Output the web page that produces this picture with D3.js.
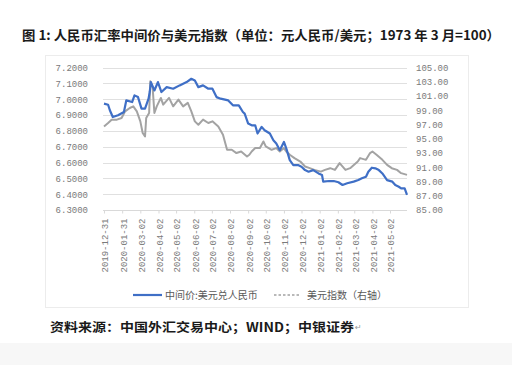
<!DOCTYPE html>
<html><head><meta charset="utf-8">
<script src="https://cdn.jsdelivr.net/npm/d3@7/dist/d3.min.js"></script>
<style>
html,body{margin:0;padding:0;background:#fff;}
svg{display:block;}
</style></head>
<body>
<script>
const titleText = "图 1: 人民币汇率中间价与美元指数（单位：元人民币/美元；1973 年 3 月=100）";
const sourceText = "资料来源：中国外汇交易中心；WIND；中银证券";
const seriesNames = ["中间价:美元兑人民币", "美元指数（右轴）"];

const xTickLabels = ["2019-12-31","2020-01-31","2020-03-02","2020-04-02","2020-05-02","2020-06-02","2020-07-02","2020-08-02","2020-09-02","2020-10-02","2020-11-02","2020-12-02","2021-01-02","2021-02-02","2021-03-02","2021-04-02","2021-05-02"];
const leftTicks = [7.2,7.1,7.0,6.9,6.8,6.7,6.6,6.5,6.4,6.3];
const rightTicks = [105,103,101,99,97,95,93,91,89,87,85];

const cnyDates = ["2019-12-31","2020-01-07","2020-01-10","2020-01-15","2020-01-24","2020-02-03","2020-02-07","2020-02-17","2020-02-21","2020-02-27","2020-03-04","2020-03-10","2020-03-16","2020-03-18","2020-03-20","2020-03-26","2020-04-01","2020-04-07","2020-04-16","2020-04-27","2020-05-08","2020-05-20","2020-05-28","2020-06-03","2020-06-09","2020-06-17","2020-06-26","2020-07-03","2020-07-10","2020-07-17","2020-07-30","2020-08-07","2020-08-17","2020-08-24","2020-08-27","2020-09-02","2020-09-08","2020-09-14","2020-09-18","2020-09-25","2020-09-30","2020-10-09","2020-10-15","2020-10-20","2020-10-26","2020-11-02","2020-11-06","2020-11-12","2020-11-18","2020-11-26","2020-12-02","2020-12-08","2020-12-14","2020-12-22","2020-12-31","2021-01-06","2021-01-08","2021-01-18","2021-01-26","2021-02-03","2021-02-10","2021-02-18","2021-03-01","2021-03-09","2021-03-15","2021-03-22","2021-03-26","2021-04-01","2021-04-07","2021-04-13","2021-04-19","2021-04-27","2021-05-06","2021-05-11","2021-05-17","2021-05-21","2021-05-27","2021-05-31"];
const cnyValues = [6.972,6.965,6.930,6.887,6.898,6.919,6.992,6.982,7.024,7.013,6.940,6.940,7.003,7.045,7.108,7.055,7.108,7.045,7.076,7.066,7.087,7.108,7.129,7.118,7.076,7.087,7.066,7.066,7.013,7.003,6.992,6.961,6.961,6.919,6.909,6.846,6.835,6.835,6.783,6.825,6.804,6.783,6.741,6.720,6.678,6.730,6.689,6.615,6.584,6.584,6.573,6.552,6.542,6.552,6.531,6.521,6.479,6.483,6.483,6.475,6.458,6.469,6.479,6.489,6.500,6.510,6.542,6.567,6.563,6.552,6.531,6.489,6.479,6.458,6.447,6.437,6.437,6.395];

const dxyDates = ["2019-12-31","2020-01-07","2020-01-13","2020-01-22","2020-01-30","2020-02-05","2020-02-13","2020-02-19","2020-02-25","2020-03-02","2020-03-06","2020-03-10","2020-03-12","2020-03-17","2020-03-19","2020-03-23","2020-03-26","2020-03-30","2020-04-06","2020-04-10","2020-04-20","2020-04-27","2020-05-06","2020-05-14","2020-05-22","2020-05-28","2020-06-03","2020-06-09","2020-06-17","2020-06-26","2020-07-03","2020-07-13","2020-07-21","2020-07-28","2020-08-05","2020-08-13","2020-08-21","2020-08-31","2020-09-04","2020-09-08","2020-09-14","2020-09-22","2020-09-28","2020-10-02","2020-10-12","2020-10-20","2020-10-26","2020-11-02","2020-11-06","2020-11-12","2020-11-20","2020-11-30","2020-12-08","2020-12-16","2020-12-24","2021-01-04","2021-01-11","2021-01-20","2021-01-28","2021-02-05","2021-02-15","2021-02-23","2021-03-08","2021-03-12","2021-03-22","2021-03-29","2021-04-02","2021-04-09","2021-04-19","2021-04-27","2021-05-05","2021-05-14","2021-05-21","2021-05-31"];
const dxyValues = [96.73,97.21,97.68,97.68,97.92,98.85,99.32,99.55,98.85,97.44,95.80,95.32,97.92,98.62,103.07,102.14,98.62,99.55,100.73,99.79,100.73,99.55,100.49,99.55,100.03,98.85,97.44,96.97,97.68,97.21,97.44,96.73,95.56,93.45,93.45,92.99,93.21,92.51,92.75,93.21,93.69,93.69,94.62,93.92,93.45,93.69,93.21,93.69,93.21,92.75,92.28,91.80,91.10,90.87,90.63,90.39,90.63,90.87,90.63,91.58,90.63,90.87,91.80,92.28,92.04,92.99,93.21,92.75,92.04,91.34,90.87,90.63,90.17,89.93];

const W = 512, H = 365;
const parse = d3.timeParse("%Y-%m-%d");
const svg = d3.select("body").append("svg").attr("width", W).attr("height", H);
svg.append("rect").attr("width", W).attr("height", H).attr("fill", "#fff");
svg.append("rect").attr("x", 0).attr("y", 343).attr("width", W).attr("height", 22).attr("fill", "#f7f7f7");

// chart box
svg.append("rect").attr("x", 45.5).attr("y", 55.5).attr("width", 423).attr("height", 252)
  .attr("fill", "#fff").attr("stroke", "#ececec");

const x = d3.scaleTime().domain([parse("2019-12-31"), parse("2021-05-31")]).range([104, 407]);
const yL = d3.scaleLinear().domain([6.3, 7.2]).range([210, 67.5]);
const yR = d3.scaleLinear().domain([85, 105]).range([210, 67.5]);

const mono = "'Liberation Mono', 'DejaVu Sans Mono', monospace";

// gridlines
svg.append("g").selectAll("line").data(leftTicks).join("line")
  .attr("x1", 103).attr("x2", 407)
  .attr("y1", d => Math.round(yL(d)) + 0.5).attr("y2", d => Math.round(yL(d)) + 0.5)
  .attr("stroke", "#e0e0e0").attr("stroke-width", 1);

// left axis
const gL = svg.append("g").attr("transform", "translate(88,0)")
  .call(d3.axisLeft(yL).tickValues(leftTicks).tickFormat(d3.format(".4f")).tickSize(0).tickPadding(0));
gL.select(".domain").remove();
gL.selectAll("text").attr("font-family", mono).attr("font-size", 9).attr("fill", "#7a7a7a");

// right axis
const gR = svg.append("g").attr("transform", "translate(416,0)")
  .call(d3.axisRight(yR).tickValues(rightTicks).tickFormat(d3.format(".2f")).tickSize(0).tickPadding(0));
gR.select(".domain").remove();
gR.selectAll("text").attr("font-family", mono).attr("font-size", 9).attr("fill", "#7a7a7a");

// bottom axis
const gB = svg.append("g").attr("transform", "translate(0,210.5)")
  .call(d3.axisBottom(x).tickValues(xTickLabels.map(parse)).tickFormat(d3.timeFormat("%Y-%m-%d")).tickSize(3).tickPadding(0));
gB.select(".domain").attr("stroke", "#d9d9d9").attr("d", "M103,0H407");
gB.selectAll(".tick line").attr("stroke", "#d9d9d9");
gB.selectAll("text").attr("font-family", mono).attr("font-size", 9).attr("fill", "#7a7a7a")
  .attr("transform", "rotate(-90)").attr("text-anchor", "end").attr("x", -8).attr("y", 1).attr("dy", "0.32em");

// lines
const dxy = dxyDates.map((d, i) => ({ d: parse(d), v: dxyValues[i] }));
const cny = cnyDates.map((d, i) => ({ d: parse(d), v: cnyValues[i] }));
svg.append("path").datum(dxy).attr("fill", "none").attr("stroke", "#a3a3a3").attr("stroke-width", 2)
  .attr("stroke-linejoin", "round")
  .attr("d", d3.line().x(p => x(p.d)).y(p => yR(p.v)));
svg.append("path").datum(cny).attr("fill", "none").attr("stroke", "#3f6fc6").attr("stroke-width", 2.2)
  .attr("stroke-linejoin", "round")
  .attr("d", d3.line().x(p => x(p.d)).y(p => yL(p.v)));

// legend
const lg = svg.append("g");
lg.append("line").attr("x1", 133).attr("x2", 162).attr("y1", 295).attr("y2", 295).attr("stroke", "#3f6fc6").attr("stroke-width", 2.2);
lg.append("text").attr("x", 165).attr("y", 298.5).text(seriesNames[0])
  .attr("font-family", "'Noto Sans CJK SC', sans-serif").attr("font-size", 10).attr("fill", "#595959");
lg.append("line").attr("x1", 274).attr("x2", 300).attr("y1", 295).attr("y2", 295).attr("stroke", "#a3a3a3").attr("stroke-width", 1.5).attr("stroke-dasharray", "2.5,2");
lg.append("text").attr("x", 307).attr("y", 298.5).text(seriesNames[1])
  .attr("font-family", "'Noto Sans CJK SC', sans-serif").attr("font-size", 10).attr("fill", "#595959");

// title
svg.append("text").attr("x", 22).attr("y", 40).text(titleText)
  .attr("font-family", "'Noto Sans CJK SC', sans-serif").attr("font-weight", 700).attr("font-size", 13)
  .attr("fill", "#1a1a1a").attr("textLength", 478).attr("lengthAdjust", "spacingAndGlyphs");

// source
svg.append("text").attr("x", 50).attr("y", 332).text(sourceText)
  .attr("font-family", "'Noto Sans CJK SC', sans-serif").attr("font-weight", 700).attr("font-size", 12.5)
  .attr("fill", "#1a1a1a").attr("textLength", 304).attr("lengthAdjust", "spacingAndGlyphs");
svg.append("text").attr("x", 355).attr("y", 330).text("↵")
  .attr("font-family", "'DejaVu Sans', sans-serif").attr("font-size", 8).attr("fill", "#999");
</script>
</body></html>
